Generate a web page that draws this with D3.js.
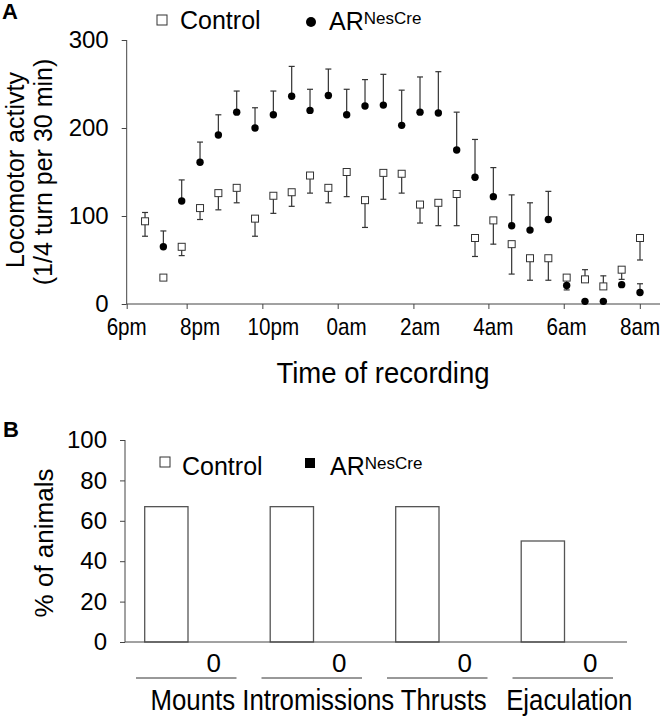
<!DOCTYPE html>
<html><head><meta charset="utf-8">
<script src="https://cdn.jsdelivr.net/npm/d3@7"></script>
<style>
body{margin:0;background:#fff;}
text{font-family:"Liberation Sans",Arial,sans-serif;fill:#000;}
</style></head><body>
<svg id="c" width="660" height="720"></svg>
<script>
// ---------- Panel A data ----------
const timeLabels = ["6pm","8pm","10pm","0am","2am","4am","6am","8am"];
const timeLabelPos = [-1,3,7,11,15,19,23,27];           // in half-hour index units
const timeTickPos = [-1,2.27,6.4,10.51,14.64,18.73,22.84,26.99];
const controlMean = [94,30,65,109,126,132,97,123,127,146,132,150,118,149,148,113,115,125,75,95,68,52,52,30,28,20,39,75];
const controlLow  = [77,28,55,96,107,115,77,103,111,126,115,122,87,119,126,92,89,89,54,68,34,27,27,16,null,null,28,50];
const controlHigh = [104,null,null,null,null,null,null,null,null,null,null,null,null,null,null,null,null,null,null,null,null,null,null,null,39,32,null,null];
const arMean = [null,65,117,161,192,218,200,215,236,220,237,215,225,226,203,218,217,175,144,122,89,84,96,21,3,3,22,13];
const arHigh = [null,83,141,184,215,242,223,242,270,244,267,244,255,261,243,258,264,218,187,155,124,115,128,null,null,null,null,23];
const yTicksA = [0,100,200,300];

// ---------- Panel B data ----------
const categories = ["Mounts","Intromissions","Thrusts","Ejaculation"];
const groups = ["Control","AR"];
const controlPct = [67,67,67,50];
const arPct = [0,0,0,0];
const yTicksB = [0,20,40,60,80,100];

const svg = d3.select("#c");
const axisCol = "#444";

// ================= Panel A =================
const xA = d3.scaleLinear().domain([-1,27]).range([126.7,640]);
const yA = d3.scaleLinear().domain([0,300]).range([304,40]);

svg.append("text").attr("x",2).attr("y",19).attr("font-size",22).attr("font-weight","bold").text("A");

// y axis
const gyA = svg.append("g").attr("transform",`translate(${xA(-1)},0)`)
  .call(d3.axisLeft(yA).tickValues(yTicksA).tickSize(5).tickPadding(13).tickFormat(d3.format("d")));
gyA.select(".domain").attr("stroke",axisCol).attr("d",`M0,${yA(0)}V${yA(300)}`);
gyA.selectAll(".tick line").attr("stroke",axisCol);
gyA.selectAll(".tick text").attr("font-size",24).attr("font-family","Liberation Sans, Arial, sans-serif").attr("fill","#000");

// x axis
const gxA = svg.append("g").attr("transform",`translate(0,${yA(0)})`)
  .call(d3.axisBottom(xA).tickValues(timeTickPos).tickSize(5).tickFormat(""));
gxA.select(".domain").attr("stroke",axisCol).attr("d",`M${xA(-1)},0H660`);
gxA.selectAll(".tick line").attr("stroke",axisCol);

svg.append("g").selectAll("text").data(timeLabels).join("text")
  .attr("transform",(d,i)=>`translate(${xA(timeLabelPos[i])},335) scale(0.86,1)`)
  .attr("text-anchor","middle").attr("font-size",24).text(d=>d);

svg.append("text").attr("transform","translate(383,383) scale(0.95,1)").attr("text-anchor","middle")
  .attr("font-size",29).text("Time of recording");

svg.append("text").attr("transform",`translate(24,170) rotate(-90)`)
  .attr("text-anchor","middle").attr("font-size",25).text("Locomotor activty");
svg.append("text").attr("transform",`translate(52,172) rotate(-90)`)
  .attr("text-anchor","middle").attr("font-size",25).text("(1/4 turn per 30 min)");

// legend A
svg.append("rect").attr("x",157).attr("y",15).attr("width",10).attr("height",10)
  .attr("fill","#fff").attr("stroke","#333").attr("stroke-width",1);
svg.append("text").attr("x",180).attr("y",29).attr("font-size",25).text("Control");
svg.append("circle").attr("cx",311).attr("cy",22).attr("r",5).attr("fill","#000");
const la = svg.append("text").attr("x",329).attr("y",30).attr("font-size",25);
la.append("tspan").text("AR");
la.append("tspan").attr("font-size",17).attr("dy",-6).text("NesCre");

// error bars
const cap = 3;
const errG = svg.append("g").attr("stroke","#333").attr("stroke-width",1.2).attr("fill","none");
function errBar(i, m, e){
  if(m==null || e==null) return;
  const x = xA(i);
  errG.append("line").attr("x1",x).attr("x2",x).attr("y1",yA(m)).attr("y2",yA(e));
  errG.append("line").attr("x1",x-cap).attr("x2",x+cap).attr("y1",yA(e)).attr("y2",yA(e));
}
arMean.forEach((m,i)=>errBar(i,m,arHigh[i]));
controlMean.forEach((m,i)=>{errBar(i,m,controlLow[i]); errBar(i,m,controlHigh[i]);});

// points
svg.append("g").selectAll("circle").data(arMean.map((v,i)=>({v,i})).filter(d=>d.v!=null)).join("circle")
  .attr("cx",d=>xA(d.i)).attr("cy",d=>yA(d.v)).attr("r",3.7).attr("fill","#000");
svg.append("g").selectAll("rect").data(controlMean.map((v,i)=>({v,i}))).join("rect")
  .attr("x",d=>xA(d.i)-3.5).attr("y",d=>yA(d.v)-3.5).attr("width",7).attr("height",7)
  .attr("fill","#fff").attr("stroke","#333").attr("stroke-width",1);

// ================= Panel B =================
const x0 = d3.scaleBand().domain(categories).range([125,627]);
const bw = x0.bandwidth();
const x1 = d3.scaleBand().domain(groups).range([bw*0.157,bw*0.847]);
const yB = d3.scaleLinear().domain([0,100]).range([642,440]);

svg.append("text").attr("x",3).attr("y",437).attr("font-size",22).attr("font-weight","bold").text("B");

const gyB = svg.append("g").attr("transform",`translate(125,0)`)
  .call(d3.axisLeft(yB).tickValues(yTicksB).tickSize(5).tickPadding(13).tickFormat(d3.format("d")));
gyB.select(".domain").attr("stroke",axisCol).attr("d",`M0,${yB(0)}V${yB(100)}`);
gyB.selectAll(".tick line").attr("stroke",axisCol);
gyB.selectAll(".tick text").attr("font-size",24).attr("font-family","Liberation Sans, Arial, sans-serif").attr("fill","#000");

svg.append("text").attr("transform",`translate(53,543) rotate(-90)`)
  .attr("text-anchor","middle").attr("font-size",26).text("% of animals");

const barData = categories.map((c,i)=>[{c,g:"Control",v:controlPct[i]},{c,g:"AR",v:arPct[i]}]).flat();
svg.append("g").selectAll("rect").data(barData).join("rect")
  .attr("x",d=>x0(d.c)+x1(d.g)).attr("width",x1.bandwidth())
  .attr("y",d=>yB(d.v)).attr("height",d=>yB(0)-yB(d.v))
  .attr("fill",d=>d.g==="Control"?"#fff":"#000")
  .attr("stroke",d=>d.g==="Control"?"#555":"none").attr("stroke-width",1.3);

svg.append("line").attr("x1",125).attr("x2",627).attr("y1",yB(0)).attr("y2",yB(0)).attr("stroke",axisCol);

// AR value labels, separator lines, category labels
svg.append("g").selectAll("text").data(categories).join("text")
  .attr("x",(c,i)=>x0(c)+x1("AR")+x1.bandwidth()/2+4).attr("y",672)
  .attr("text-anchor","middle").attr("font-size",26).text((c,i)=>arPct[i]);
svg.append("g").selectAll("line").data(categories).join("line")
  .attr("x1",c=>x0(c)+11).attr("x2",c=>x0(c)+bw-14).attr("y1",678).attr("y2",678)
  .attr("stroke","#333").attr("stroke-width",1);
svg.append("g").selectAll("text").data(categories).join("text")
  .attr("transform",c=>`translate(${x0(c)+bw/2+5},710) scale(0.89,1)`)
  .attr("text-anchor","middle").attr("font-size",29).text(c=>c);

// legend B
svg.append("rect").attr("x",160).attr("y",457).attr("width",10).attr("height",10)
  .attr("fill","#fff").attr("stroke","#333").attr("stroke-width",1);
svg.append("text").attr("x",182).attr("y",475).attr("font-size",25).text("Control");
svg.append("rect").attr("x",305).attr("y",458).attr("width",10).attr("height",10).attr("fill","#000");
const lb = svg.append("text").attr("x",330).attr("y",475).attr("font-size",25);
lb.append("tspan").text("AR");
lb.append("tspan").attr("font-size",17).attr("dy",-6).text("NesCre");
</script>
</body></html>
